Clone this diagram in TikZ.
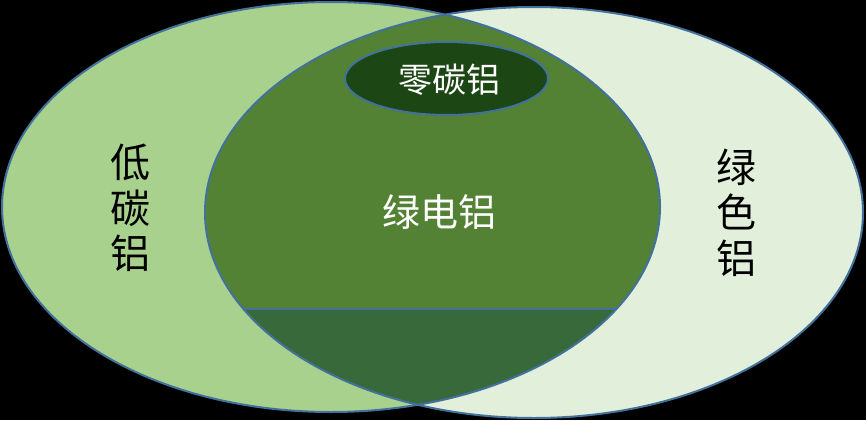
\documentclass[tikz,border=0pt]{standalone}
\usepackage{fontspec}
\newfontfamily\cjk{Noto Sans CJK SC}
\definecolor{lowc}{HTML}{A9D18E}
\definecolor{greenc}{HTML}{E2EFDA}
\definecolor{lensc}{HTML}{548235}
\definecolor{bandc}{HTML}{37693A}
\definecolor{zeroc}{HTML}{1C4614}
\definecolor{outc}{HTML}{41719C}
\begin{document}
\begin{tikzpicture}[x=1pt,y=-1pt,
  outl/.style={draw=outc,line width=2pt},
  blktext/.style={text=black,align=center,inner sep=0pt,font=\cjk\fontsize{40}{45.5}\selectfont},
  whttext/.style={text=white,inner sep=0pt}]
\fill[black] (0,0) rectangle (866,420);
\useasboundingbox (0,0) rectangle (866,420);
% big sets
\fill[lowc] (331,207) ellipse [x radius=329pt,y radius=205pt];
\fill[greenc] (534,212.5) ellipse [x radius=329pt,y radius=205.5pt];
% intersection
\begin{scope}
  \clip (331,207) ellipse [x radius=329pt,y radius=205pt];
  \fill[lensc] (534,212.5) ellipse [x radius=329pt,y radius=205.5pt];
  \clip (534,212.5) ellipse [x radius=329pt,y radius=205.5pt];
  \fill[bandc] (0,309) rectangle (866,420);
  \coordinate (bl) at (200,309);
  \coordinate (br) at (700,309);
  \draw[draw=outc,line width=2pt] (bl) -- (br);
\end{scope}
% outlines
\draw[outl] (331,207) ellipse [x radius=329pt,y radius=205pt];
\draw[outl] (534,212.5) ellipse [x radius=329pt,y radius=205.5pt];
% zero-carbon set
\draw[outl,fill=zeroc] (446.5,78.5) ellipse [x radius=101.5pt,y radius=36.5pt];
% labels
\node[blktext] (lowlabel) at (130,208) {低\\碳\\铝};
\node[blktext] (greenlabel) at (736,212.5) {绿\\色\\铝};
\node[whttext,font=\cjk\fontsize{38}{44}\selectfont] (greenpower) at (439,212) {绿电铝};
\node[whttext,font=\cjk\fontsize{34}{40}\selectfont] (zerolabel) at (449,80) {零碳铝};
\end{tikzpicture}
\end{document}
